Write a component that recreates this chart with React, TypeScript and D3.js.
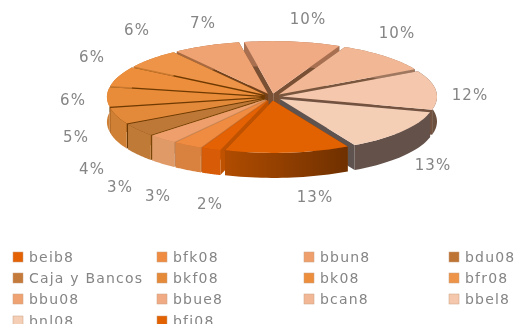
import React from 'react';
import * as d3 from 'd3';

const names = ['beib8', 'bfk08', 'bbun8', 'bdu08', 'Caja y Bancos', 'bkf08', 'bk08', 'bfr08', 'bbu08', 'bbue8', 'bcan8', 'bbel8', 'bnl08', 'bfi08'];
const values = [2, 3, 3, 4, 5, 6, 6, 6, 7, 10, 10, 12, 13, 13];
const swatchColors = ['#e46204', '#f08c42', '#ee9f6b', '#bd7434', '#c47a3a', '#e58a38', '#ec8e3c', '#ee9448', '#efa272', '#f0ab85', '#f2b896', '#f5c8ad', '#f5ceb6', '#e26100'];
const topColors = ['#e46204', '#f08c42', '#ee9f6b', '#bd7838', '#e3893a', '#e88c3a', '#ec8e3c', '#ee9448', '#efa272', '#f0ab85', '#f2b896', '#f5c8ad', '#f5ceb6', '#e26100'];
const rimColors = ['#d85c08', '#d9813f', '#e09a68', '#c07a38', '#d08035', '#d08035', '#c8792f', '#c8792f', '#a86a40', '#a87050', '#a07860', '#6b5040', '#64524a', '#8f4000'];
const radialColors = ['#bf5200', '#c87030', '#c88858', '#7a4506', '#6f3a02', '#6f3a02', '#6f3a02', '#6f3a02', '#74421a', '#7a5034', '#7a563e', '#735240', '#5f5350', '#8f4000'];

const width = 526;
const height = 324;
const cx = 272;
const cy = 97;
const rx = 155;
const ry = 52.5;
const depth = 25;
const explode = 0.065;

const legendX = [13, 157, 304, 449];
const legendY = [257, 278, 299, 321];
const labelAnchors = [[210, 204], [158, 196], [120, 187], [92, 169], [76, 137], [73, 100], [92, 57], [137, 30], [203, 23], [308, 19], [397, 33], [470, 95], [433, 165], [315, 197]];

const pie = d3.pie<number>().sort(null).startAngle((198 * Math.PI) / 180).endAngle((558 * Math.PI) / 180);
const arcs = pie(values);

const px = (a: number, r: number) => cx + rx * r * Math.sin(a);
const py = (a: number, r: number) => cy - ry * r * Math.cos(a);
const line = d3.line<[number, number]>();

const slices = arcs.map((d, i) => {
  const mid = (d.startAngle + d.endAngle) / 2;
  const dx = rx * explode * Math.sin(mid);
  const dy = -ry * explode * Math.cos(mid);
  const steps = d3.range(0, 25).map(k => d.startAngle + ((d.endAngle - d.startAngle) * k) / 24);
  const rim = steps.map(a => [px(a, 1) + dx, py(a, 1) + dy] as [number, number]);
  const apex: [number, number] = [cx + dx, cy + dy];
  const down = (p: [number, number]) => [p[0], p[1] + depth] as [number, number];
  return {
    i,
    mid,
    top: line([apex, ...rim])! + 'Z',
    outer: line([...rim, ...rim.map(down).reverse()])! + 'Z',
    wallA: line([apex, rim[0], down(rim[0]), down(apex)])! + 'Z',
    wallB: line([apex, rim[24], down(rim[24]), down(apex)])! + 'Z',
  };
});
const ordered = [...slices].sort((a, b) => Math.cos(b.mid) - Math.cos(a.mid));

export default function App() {
  return (
    <svg width={width} height={height} style={{ position: 'absolute', left: 0, top: 0, filter: 'blur(0.5px)' }}>
      <rect width={width} height={height} fill="#fff" />
      <defs>
        <linearGradient id="bfi-wall" x1="0" x2="1" y1="0" y2="0">
          <stop offset="0" stopColor="#b04c00" />
          <stop offset="1" stopColor="#6f3000" />
        </linearGradient>
      </defs>
      {ordered.map(s => (
        <g key={s.i}>
          <path d={s.wallA} fill={radialColors[s.i]} />
          <path d={s.wallB} fill={radialColors[s.i]} />
          <path d={s.outer} fill={s.i === 13 ? 'url(#bfi-wall)' : rimColors[s.i]} />
          <path d={s.top} fill={topColors[s.i]} />
        </g>
      ))}
      {values.map((v, i) => (
        <text key={i} x={labelAnchors[i][0]} y={labelAnchors[i][1]} dy="0.35em" textAnchor="middle" fontFamily="'DejaVu Sans', sans-serif" fontSize={15} letterSpacing={1} fill="#858585">
          {v}%
        </text>
      ))}
      {names.map((n, i) => {
        const col = i % 4;
        const row = Math.floor(i / 4);
        return (
          <g key={n}>
            <rect x={legendX[col]} y={legendY[row] - 5} width={10} height={10} fill={swatchColors[i]} stroke="#c9a080" strokeWidth={0.5} />
            <text x={legendX[col] + 16} y={legendY[row]} dy="0.35em" fontFamily="'DejaVu Sans', sans-serif" fontSize={14} letterSpacing={1.2} fill="#858585">
              {n}
            </text>
          </g>
        );
      })}
    </svg>
  );
}
